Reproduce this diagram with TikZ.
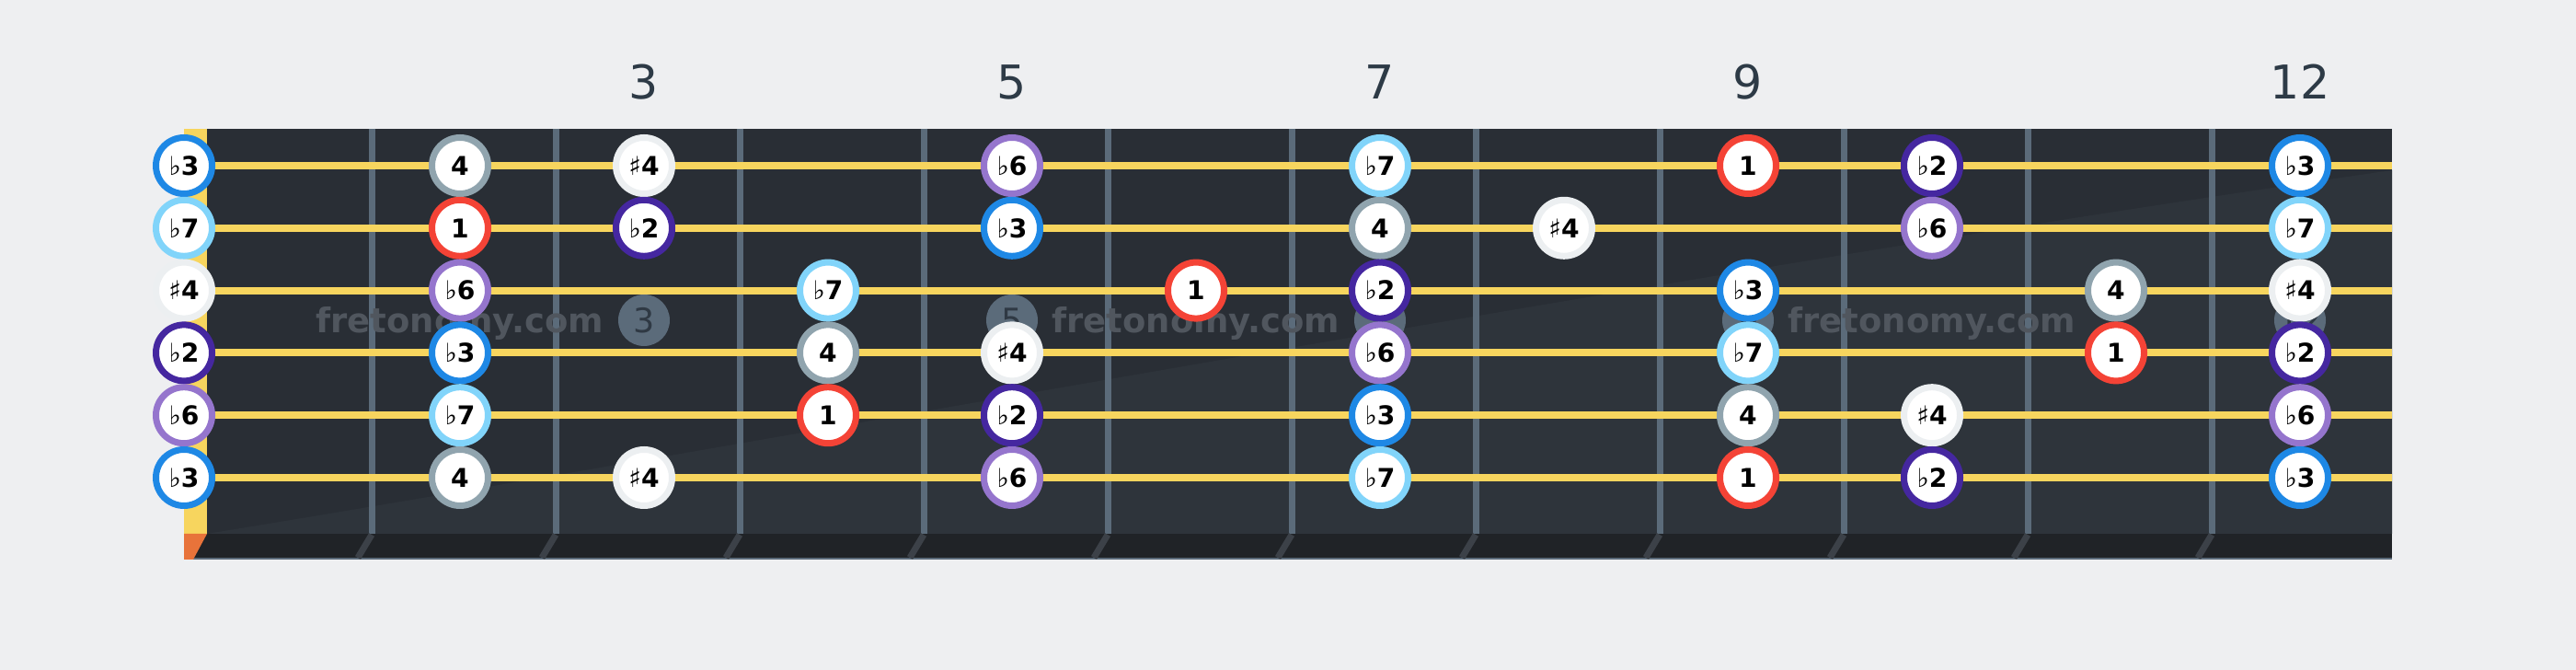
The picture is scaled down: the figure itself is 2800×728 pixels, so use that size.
\documentclass[tikz,border=0pt]{standalone}
\usepackage{fontspec}
\setmainfont{DejaVu Sans}
\definecolor{bg}{HTML}{EEEFF1}
\definecolor{board}{HTML}{292E35}
\definecolor{sheen}{HTML}{2E343B}
\definecolor{strip}{HTML}{202327}
\definecolor{fretc}{HTML}{5B6B7A}
\definecolor{fretsh}{HTML}{3C4148}
\definecolor{strc}{HTML}{F7D55E}
\definecolor{nutc}{HTML}{F7D55E}
\definecolor{nutend}{HTML}{E8733A}
\definecolor{inlayc}{HTML}{5B6B7A}
\definecolor{inlayt}{HTML}{2F3944}
\definecolor{wmc}{HTML}{50565E}
\definecolor{labc}{HTML}{2D3A46}
\definecolor{cb3}{HTML}{1E88E5}
\definecolor{cb7}{HTML}{81D4FA}
\definecolor{cs4}{HTML}{ECEFF1}
\definecolor{cb2}{HTML}{4527A0}
\definecolor{cb6}{HTML}{9575CD}
\definecolor{cp4}{HTML}{90A4AE}
\definecolor{cr1}{HTML}{F44336}
\newcommand\fl{{\mdseries ♭}}
\newcommand\sh{{\mdseries ♯}}
\tikzset{
  note/.style={circle, fill=white, draw=c#1, line width=0.7mm, minimum size=6.1mm,
    inner sep=0pt, text height=5.83pt, text depth=0pt, text=black,
    font=\fontsize{8pt}{9pt}\selectfont\bfseries},
  inlay/.style={circle, fill=inlayc, minimum size=5.6mm, inner sep=0pt,
    text=inlayt, font=\fontsize{10.4pt}{12pt}\selectfont},
  wm/.style={anchor=base, text=wmc, font=\fontsize{10.5pt}{12pt}\selectfont\bfseries, inner sep=0pt},
  fretlab/.style={anchor=base, text=labc, font=\fontsize{14.4pt}{16pt}\selectfont, inner sep=0pt},
  fretwire/.style={draw=fretc, line width=0.7mm},
  fretshadow/.style={draw=fretsh, line width=0.7mm},
  guitarstring/.style={draw=strc, line width=0.8mm}
}
\begin{document}
\begin{tikzpicture}[x=0.1mm,y=-0.1mm]
\useasboundingbox[fill=bg] (0,0) rectangle (2800,728);
% fretboard
\fill[board] (200,140) rectangle (2600,580);
\fill[sheen] (225,580) .. controls (900,470) and (1800,300) .. (2600,185) -- (2600,580) -- cycle;
\fill[strip] (200,580) rectangle (2600,608);
\draw[fretc, line width=0.2mm] (200,607) -- (2600,607);
% frets
\foreach \k in {0,...,10}{
  \pgfmathsetmacro\fx{404+200*\k}
  \draw[fretwire] (\fx,140) -- (\fx,580);
  \draw[fretshadow] (\fx,581) -- (\fx-15,606);
}
% nut
\fill[nutc] (200,140) rectangle (225,580);
\fill[nutend] (200,580) -- (225,580) -- (210,608) -- (200,608) -- cycle;
% inlays
\foreach \f in {3,5,7,9,12}{
  \node[inlay] (inl\f) at ({100+200*\f},348) {\f};
}
% strings
\foreach \s in {1,...,6}{
  \draw[guitarstring] (225,{180+67.8*(\s-1)}) -- (2600,{180+67.8*(\s-1)});
}
% watermarks
\node[wm] (wm1) at (500,362) {fretonomy.com};
\node[wm] (wm2) at (1300,362) {fretonomy.com};
\node[wm] (wm3) at (2100,362) {fretonomy.com};
% notes
\foreach \s/\f/\c/\t in {
  1/0/b3/\fl3, 1/2/p4/4, 1/3/s4/\sh4, 1/5/b6/\fl6, 1/7/b7/\fl7, 1/9/r1/1, 1/10/b2/\fl2, 1/12/b3/\fl3,
  2/0/b7/\fl7, 2/2/r1/1, 2/3/b2/\fl2, 2/5/b3/\fl3, 2/7/p4/4, 2/8/s4/\sh4, 2/10/b6/\fl6, 2/12/b7/\fl7,
  3/0/s4/\sh4, 3/2/b6/\fl6, 3/4/b7/\fl7, 3/6/r1/1, 3/7/b2/\fl2, 3/9/b3/\fl3, 3/11/p4/4, 3/12/s4/\sh4,
  4/0/b2/\fl2, 4/2/b3/\fl3, 4/4/p4/4, 4/5/s4/\sh4, 4/7/b6/\fl6, 4/9/b7/\fl7, 4/11/r1/1, 4/12/b2/\fl2,
  5/0/b6/\fl6, 5/2/b7/\fl7, 5/4/r1/1, 5/5/b2/\fl2, 5/7/b3/\fl3, 5/9/p4/4, 5/10/s4/\sh4, 5/12/b6/\fl6,
  6/0/b3/\fl3, 6/2/p4/4, 6/3/s4/\sh4, 6/5/b6/\fl6, 6/7/b7/\fl7, 6/9/r1/1, 6/10/b2/\fl2, 6/12/b3/\fl3}{
  \pgfmathsetmacro\nx{\f==0 ? 200 : 100+200*\f}
  \pgfmathsetmacro\ny{180+67.8*(\s-1)}
  \node[note=\c] (n\s-\f) at (\nx,\ny) {\t};
}
% fret numbers
\node[fretlab] (lab3) at (700,108) {3};
\node[fretlab] (lab5) at (1100,108) {5};
\node[fretlab] (lab7) at (1500,108) {7};
\node[fretlab] (lab9) at (1900,108) {9};
\node[fretlab] (lab12) at (2500,108) {12};
\end{tikzpicture}
\end{document}
